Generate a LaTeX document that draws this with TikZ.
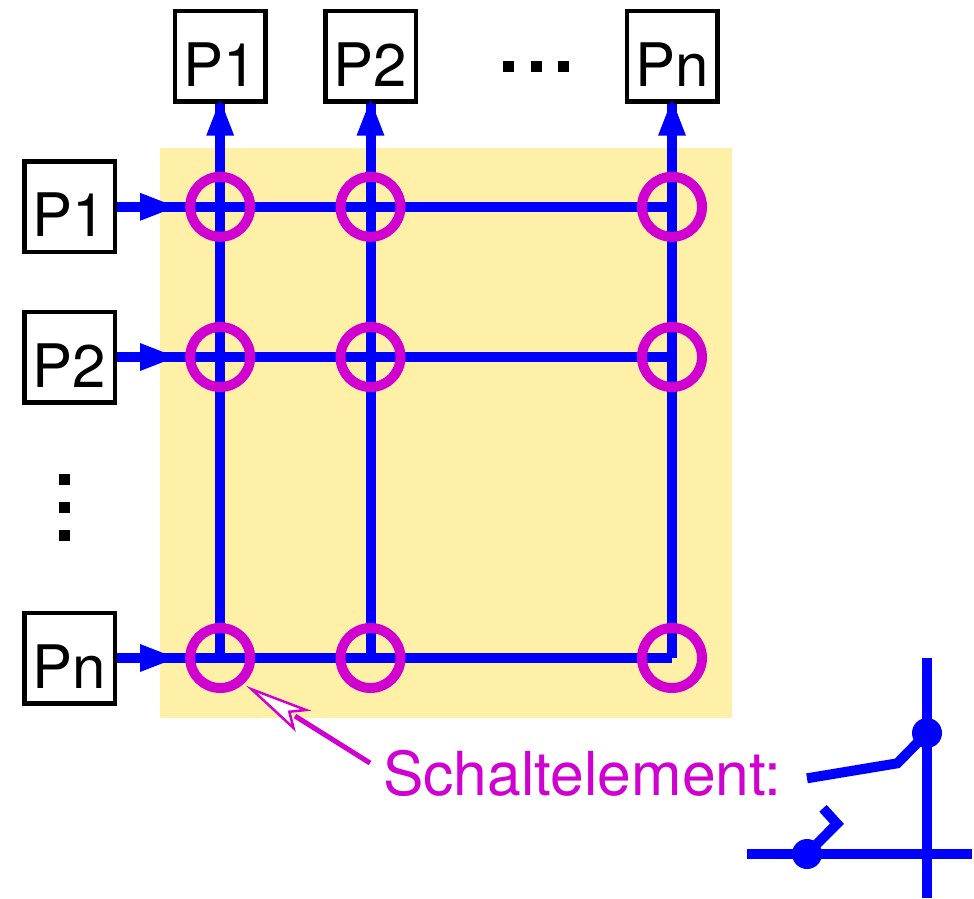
\documentclass[tikz,border=0pt]{standalone}
\usepackage{fontspec}
\setmainfont{TeX Gyre Heros}
\definecolor{bus}{RGB}{0,0,255}
\definecolor{mag}{RGB}{208,0,208}
\definecolor{pad}{RGB}{255,240,168}
\tikzset{
 pbox/.style={draw=black,line width=4.5pt,fill=white,minimum width=90.5pt,minimum height=90.5pt,inner sep=0pt,text height=60pt,text depth=0pt,font=\fontsize{60}{60}\selectfont},
 wire/.style={draw=bus,line width=10pt,line cap=butt},
 ring/.style={draw=mag,line width=10pt,circle,minimum size=60pt,inner sep=0pt},
 head/.style={fill=bus},
 dotm/.style={fill=bus,circle,minimum size=30pt,inner sep=0pt},
 sq/.style={fill=black,minimum size=11pt,inner sep=0pt}
}
\begin{document}
\begin{tikzpicture}[x=1pt,y=-1pt]
\useasboundingbox (0,0) rectangle (974,898);
\fill[pad] (160,148) rectangle (732,718);
\node[pbox] (t1) at (220.2,56.2) {P1};
\node[pbox] (t2) at (370.5,56.2) {P2};
\node[pbox] (tn) at (672,56.2) {Pn};
\node[pbox] (l1) at (69.5,206.8) {P1};
\node[pbox] (l2) at (69.5,357) {P2};
\node[pbox] (ln) at (69.5,658) {Pn};
\coordinate (c11) at (220.2,206.8); \coordinate (c21) at (370.5,206.8); \coordinate (cn1) at (672,206.8);
\coordinate (c12) at (220.2,357); \coordinate (c22) at (370.5,357); \coordinate (cn2) at (672,357);
\coordinate (c1n) at (220.2,658); \coordinate (c2n) at (370.5,658); \coordinate (cnn) at (672,658);
\foreach \a/\b in {t1/c1n,t2/c2n,tn/cnn} \draw[wire] (\a.south) -- (\b);
\foreach \a/\b in {l1/cn1,l2/cn2,ln/cnn} \draw[wire] (\a.east) -- (\b);
\foreach \c in {c11,c21,cn1,c12,c22,cn2,c1n,c2n,cnn} \node[ring] at (\c) {};
\foreach \a in {t1,t2,tn} \fill[head] ([yshift=4pt]\a.south) -- ++(14,36) -- ++(-28,0) -- cycle;
\foreach \a in {l1,l2,ln} \fill[head] ([xshift=23pt]\a.east) ++(0,-14) -- ++(36,14) -- ++(-36,14) -- cycle;
\foreach \x in {508.5,536.5,563.5} \node[sq] at (\x,66.5) {};
\foreach \y in {479.5,507.5,535.5} \node[sq] at (64.5,\y) {};
\node[font=\fontsize{60.6}{60.6}\selectfont,text=mag,anchor=base west,inner sep=0pt] (lab) at (383,795) {Schaltelement:};
\coordinate (tip) at (251.7,689.3);
\draw[mag,line width=5pt] (370,763) -- (295,716);
\draw[mag,line width=2.5pt,fill=white,miter limit=10] (tip) -- (306,710) -- (289.3,711.7) -- (293.5,728) -- cycle;
\draw[wire] (927,658) -- (927,898);
\draw[wire] (747,854) -- (972,854);
\node[dotm] (d1) at (927,733) {};
\node[dotm] (d2) at (807,854) {};
\draw[wire,miter limit=10] (d1.center) -- (897.3,763.3) -- (807,778.3);
\draw[wire,miter limit=10] (d2.center) -- (837,823.7) -- (823,808.3);
\end{tikzpicture}
\end{document}
